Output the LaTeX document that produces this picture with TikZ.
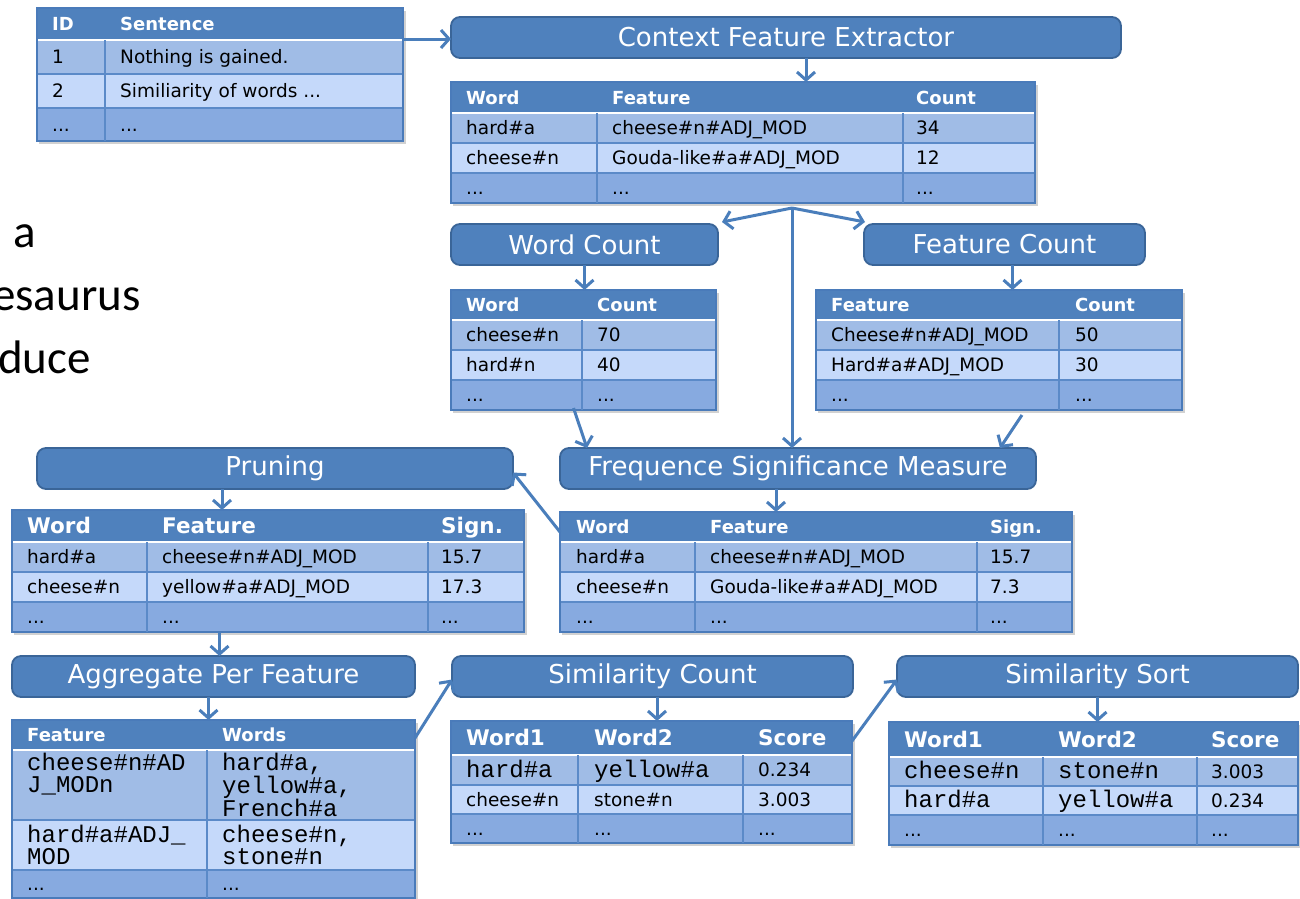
\documentclass[tikz,border=0pt]{standalone}
\usepackage{fontspec}
\setmainfont{DejaVu Sans}
\newfontfamily\calib{Carlito}
\newfontfamily\cour{Liberation Mono}
\usetikzlibrary{arrows.meta,calc,fit}

\definecolor{boxfill}{HTML}{4F81BD}
\definecolor{boxline}{HTML}{3A6598}
\definecolor{hdr}{HTML}{4F81BD}
\definecolor{rowa}{HTML}{A0BCE6}
\definecolor{rowb}{HTML}{C5D9FA}
\definecolor{rowc}{HTML}{87AAE0}
\definecolor{sepc}{HTML}{5B8AC8}
\definecolor{tline}{HTML}{4A7BBA}
\definecolor{arrc}{HTML}{4A7EBB}

\newcommand{\tablebg}[8]{%
  \fill[black!18] (#2+2,#3+3) rectangle (#4+3,#8+3);
  \fill[hdr] (#2,#3) rectangle (#4,#5);
  \fill[rowa] (#2,#5) rectangle (#4,#6);
  \fill[rowb] (#2,#6) rectangle (#4,#7);
  \fill[rowc] (#2,#7) rectangle (#4,#8);
  \draw[sepc, line width=1.2pt] (#2,#6) -- (#4,#6) (#2,#7) -- (#4,#7);
  \draw[white, line width=2pt] (#2,#5) -- (#4,#5);
  \coordinate (#1-nw) at (#2,#3);
  \coordinate (#1-se) at (#4,#8);
  \node[draw=tline, line width=1.2pt, inner sep=0pt, outer sep=0pt, fit=(#1-nw)(#1-se)] (#1) {};
}
\newcommand{\coldiv}[3]{\draw[sepc, line width=1.2pt] (#1,#2) -- (#1,#3);}
\newcommand{\mlines}[1]{\begin{tabular}[t]{@{}l@{}}#1\end{tabular}}

\tikzset{
  procbox/.style={draw=boxline, line width=1.8pt, fill=boxfill, rounded corners=9pt,
    text=white, font=\fontsize{26}{30}\selectfont, minimum height=41pt,
    inner sep=0pt, outer sep=0pt, anchor=north west},
  arr/.style={draw=arrc, line width=3pt, -{Straight Barb[length=8pt,width=18pt]}},
  hd/.style={anchor=west, inner sep=0pt, text height=13pt, text depth=0pt, text=white,
    font=\bfseries\fontsize{18}{20}\selectfont},
  hdbig/.style={anchor=west, inner sep=0pt, text height=15.5pt, text depth=0pt, text=white,
    font=\bfseries\fontsize{21.5}{24}\selectfont},
  cl/.style={anchor=west, inner sep=0pt, text height=13.4pt, text depth=0pt, text=black,
    font=\fontsize{18.5}{20}\selectfont},
  mono/.style={anchor=west, inner sep=0pt, text height=14pt, text depth=0pt, text=black,
    font=\cour\fontsize{24}{20}\selectfont},
  monoml/.style={anchor=base west, inner sep=0pt, text=black,
    font=\cour\fontsize{24}{20}\selectfont},
  big/.style={anchor=base west, inner sep=0pt, text=black, font=\calib\fontsize{47}{50}\selectfont}
}

\begin{document}
\begin{tikzpicture}[x=1pt,y=-1pt]
\fill[white] (0,0) rectangle (1300,898);
\useasboundingbox (0,0) rectangle (1300,898);

% left fragment text
\node[big] (lt1) at (13,247) {a};
\node[big] (lt2) at (-8,310) {esaurus};
\node[big] (lt3) at (-2,373) {duce};

% T0
\tablebg{t0}{37}{8}{403}{40}{74}{108}{141}
\coldiv{105}{40}{141}
\node[hd] (t0h1) at (52,24) {ID};
\node[hd] (t0h2) at (120,24) {Sentence};
\node[cl] (t0a1) at (52,57) {1};
\node[cl] (t0a2) at (120,57) {Nothing is gained.};
\node[cl] (t0b1) at (52,91) {2};
\node[cl] (t0b2) at (120,91) {Similiarity of words ...};
\node[cl] (t0c1) at (52,124.5) {...};
\node[cl] (t0c2) at (120,124.5) {...};

% Context Feature Extractor
\node[procbox, minimum width=670pt] (cfe) at (451,17) {Context Feature Extractor};

% T1
\tablebg{t1}{451}{82}{1035}{113}{143}{173}{203}
\coldiv{597}{113}{203}
\coldiv{903}{113}{203}
\node[hd] (t1h1) at (466,97.5) {Word};
\node[hd] (t1h2) at (612,97.5) {Feature};
\node[hd] (t1h3) at (916,97.5) {Count};
\node[cl] (t1a1) at (466,128) {hard\#a};
\node[cl] (t1a2) at (612,128) {cheese\#n\#ADJ\_MOD};
\node[cl] (t1a3) at (916,128) {34};
\node[cl] (t1b1) at (466,158) {cheese\#n};
\node[cl] (t1b2) at (612,158) {Gouda-like\#a\#ADJ\_MOD};
\node[cl] (t1b3) at (916,158) {12};
\node[cl] (t1c1) at (466,188) {...};
\node[cl] (t1c2) at (612,188) {...};
\node[cl] (t1c3) at (916,188) {...};

% Word Count / Feature Count
\node[procbox, minimum width=267pt] (wc) at (451,224) {Word Count};
\node[procbox, minimum width=281pt] (fc) at (864,224) {Feature Count};

% T2
\tablebg{t2}{451}{290}{716}{320}{350}{380}{410}
\coldiv{582}{320}{410}
\node[hd] (t2h1) at (466,305) {Word};
\node[hd] (t2h2) at (597,305) {Count};
\node[cl] (t2a1) at (466,335) {cheese\#n};
\node[cl] (t2a2) at (597,335) {70};
\node[cl] (t2b1) at (466,365) {hard\#n};
\node[cl] (t2b2) at (597,365) {40};
\node[cl] (t2c1) at (466,395) {...};
\node[cl] (t2c2) at (597,395) {...};

% T3
\tablebg{t3}{816}{290}{1182}{320}{350}{380}{410}
\coldiv{1059}{320}{410}
\node[hd] (t3h1) at (831,305) {Feature};
\node[hd] (t3h2) at (1075,305) {Count};
\node[cl] (t3a1) at (831,335) {Cheese\#n\#ADJ\_MOD};
\node[cl] (t3a2) at (1075,335) {50};
\node[cl] (t3b1) at (831,365) {Hard\#a\#ADJ\_MOD};
\node[cl] (t3b2) at (1075,365) {30};
\node[cl] (t3c1) at (831,395) {...};
\node[cl] (t3c2) at (1075,395) {...};

% FSM
\node[procbox, minimum width=476pt] (fsm) at (560,448) {Frequence Significance Measure};

% T4
\tablebg{t4}{560}{512}{1072}{542}{572}{602}{632}
\coldiv{695}{542}{632}
\coldiv{977}{542}{632}
\node[hd] (t4h1) at (576,527) {Word};
\node[hd] (t4h2) at (710,527) {Feature};
\node[hd] (t4h3) at (990,527) {Sign.};
\node[cl] (t4a1) at (576,557) {hard\#a};
\node[cl] (t4a2) at (710,557) {cheese\#n\#ADJ\_MOD};
\node[cl] (t4a3) at (990,557) {15.7};
\node[cl] (t4b1) at (576,587) {cheese\#n};
\node[cl] (t4b2) at (710,587) {Gouda-like\#a\#ADJ\_MOD};
\node[cl] (t4b3) at (990,587) {7.3};
\node[cl] (t4c1) at (576,617) {...};
\node[cl] (t4c2) at (710,617) {...};
\node[cl] (t4c3) at (990,617) {...};

% Pruning
\node[procbox, minimum width=476pt] (pr) at (37,448) {Pruning};

% T5
\tablebg{t5}{12}{510}{524}{542}{572}{602}{632}
\coldiv{147}{542}{632}
\coldiv{428}{542}{632}
\node[hdbig] (t5h1) at (27,526) {Word};
\node[hdbig] (t5h2) at (162,526) {Feature};
\node[hdbig] (t5h3) at (441,526) {Sign.};
\node[cl] (t5a1) at (27,557) {hard\#a};
\node[cl] (t5a2) at (162,557) {cheese\#n\#ADJ\_MOD};
\node[cl] (t5a3) at (441,557) {15.7};
\node[cl] (t5b1) at (27,587) {cheese\#n};
\node[cl] (t5b2) at (162,587) {yellow\#a\#ADJ\_MOD};
\node[cl] (t5b3) at (441,587) {17.3};
\node[cl] (t5c1) at (27,617) {...};
\node[cl] (t5c2) at (162,617) {...};
\node[cl] (t5c3) at (441,617) {...};

% Aggregate Per Feature
\node[procbox, minimum width=403pt] (agg) at (12,656) {Aggregate Per Feature};

% T6
\tablebg{t6}{12}{720}{415}{750}{820}{870}{898}
\coldiv{207}{750}{898}
\node[hd] (t6h1) at (27,735) {Feature};
\node[hd] (t6h2) at (222,735) {Words};
\node[monoml] (t6a1) at (27,770) {\mlines{cheese\#n\#AD\\J\_MODn}};
\node[monoml] (t6a2) at (222,770) {\mlines{hard\#a,\\yellow\#a,\\French\#a}};
\node[monoml] (t6b1) at (27,842) {\mlines{hard\#a\#ADJ\_\\MOD}};
\node[monoml] (t6b2) at (222,842) {\mlines{cheese\#n,\\stone\#n}};
\node[cl] (t6c1) at (27,884) {...};
\node[cl] (t6c2) at (222,884) {...};

% Similarity Count
\node[procbox, minimum width=401pt] (sc) at (452,656) {Similarity Count};

% T7
\tablebg{t7}{451}{721}{852}{755}{785}{814}{843}
\coldiv{578}{755}{843}
\coldiv{743}{755}{843}
\node[hdbig] (t7h1) at (466,738) {Word1};
\node[hdbig] (t7h2) at (594,738) {Word2};
\node[hdbig] (t7h3) at (758,738) {Score};
\node[mono] (t7a1) at (466,770) {hard\#a};
\node[mono] (t7a2) at (594,770) {yellow\#a};
\node[cl] (t7a3) at (758,770) {0.234};
\node[cl] (t7b1) at (466,799.5) {cheese\#n};
\node[cl] (t7b2) at (594,799.5) {stone\#n};
\node[cl] (t7b3) at (758,799.5) {3.003};
\node[cl] (t7c1) at (466,828.5) {...};
\node[cl] (t7c2) at (594,828.5) {...};
\node[cl] (t7c3) at (758,828.5) {...};

% Similarity Sort
\node[procbox, minimum width=401pt] (ss) at (897,656) {Similarity Sort};

% T8
\tablebg{t8}{889}{722}{1298}{757}{786}{815}{845}
\coldiv{1043}{757}{845}
\coldiv{1197}{757}{845}
\node[hdbig] (t8h1) at (904,739.5) {Word1};
\node[hdbig] (t8h2) at (1058,739.5) {Word2};
\node[hdbig] (t8h3) at (1211,739.5) {Score};
\node[mono] (t8a1) at (904,771.5) {cheese\#n};
\node[mono] (t8a2) at (1058,771.5) {stone\#n};
\node[cl] (t8a3) at (1211,771.5) {3.003};
\node[mono] (t8b1) at (904,800.5) {hard\#a};
\node[mono] (t8b2) at (1058,800.5) {yellow\#a};
\node[cl] (t8b3) at (1211,800.5) {0.234};
\node[cl] (t8c1) at (904,830) {...};
\node[cl] (t8c2) at (1058,830) {...};
\node[cl] (t8c3) at (1211,830) {...};

% connectors
\coordinate (a0) at ([yshift=-31pt]t0.north east);
\draw[arr] (a0) -- (cfe.west |- a0);
\draw[arr] ([xshift=20pt]cfe.south) -- ([xshift=20pt]cfe.south |- t1.north);
\coordinate (br) at ([xshift=49pt,yshift=-5pt]t1.south);
\draw[arr] (br) -- ([xshift=4pt,yshift=2pt]wc.north east);
\draw[arr] (br) -- ([xshift=1pt,yshift=2pt]fc.north west);
\draw[arr] (br) -- (br |- fsm.north);
\draw[arr] (wc.south) -- (wc.south |- t2.north);
\draw[arr] ([xshift=8pt]fc.south) -- ([xshift=8pt]fc.south |- t3.north);
\draw[arr] ([xshift=-10pt,yshift=2pt]t2.south) -- ([xshift=27pt]fsm.north west);
\draw[arr] ([xshift=23pt,yshift=-5pt]t3.south) -- ([xshift=-36pt]fsm.north east);
\draw[arr] ([xshift=-22pt]fsm.south) -- ([xshift=-22pt]fsm.south |- t4.north);
\draw[arr] ([yshift=-20pt]t4.north west) -- ([yshift=-4pt]pr.east);
\draw[arr] ([xshift=-53pt]pr.south) -- ([xshift=-53pt]pr.south |- t5.north);
\draw[arr] ([xshift=6pt]agg.north |- t5.south) -- ([xshift=6pt]agg.north);
\draw[arr] ([xshift=-5pt]agg.south) -- ([xshift=-5pt]agg.south |- t6.north);
\draw[arr] ([yshift=-18pt]t6.north east) -- ([yshift=-3pt]sc.west);
\draw[arr] ([xshift=4.5pt]sc.south) -- ([xshift=4.5pt]sc.south |- t7.north);
\draw[arr] ([yshift=-20pt]t7.north east) -- ([yshift=-3pt]ss.west);
\draw[arr] (ss.south) -- (ss.south |- t8.north);
\end{tikzpicture}
\end{document}
